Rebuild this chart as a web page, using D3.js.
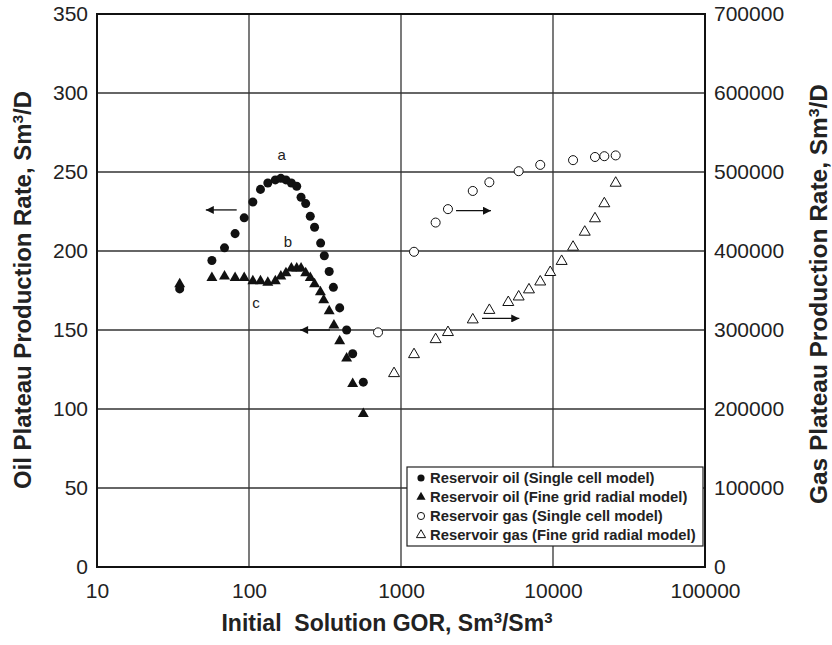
<!DOCTYPE html>
<html>
<head>
<meta charset="utf-8">
<script src="https://cdn.jsdelivr.net/npm/d3@7"></script>
<style>
  body { margin: 0; background: #fff; }
  text { font-family: "Liberation Sans", Arial, sans-serif; fill: #222; white-space: pre; }
</style>
</head>
<body>
<div id="chart"></div>
<script>
// values
var oilCellGor = [35, 57, 69, 81, 93, 106, 119, 133, 149, 162, 175, 190, 206, 220, 236, 253, 270, 296, 313, 337, 359, 395, 439, 481, 565];
var oilCellRate = [176, 194, 202, 211, 221, 231, 239, 243, 245, 246, 245, 243, 241, 234, 230, 222, 215, 205, 197, 187, 177, 164, 150, 135, 117];

var oilFineGor = [35, 57, 69, 81, 93, 106, 119, 133, 149, 162, 175, 190, 206, 220, 236, 253, 270, 295, 310, 337, 362, 395, 439, 481, 565];
var oilFineRate = [179, 183, 184, 183, 183, 181, 181, 180, 181, 184, 186, 189, 189, 189, 186, 183, 179, 174, 169, 162, 153, 143, 132, 116, 97];

var gasCellGor = [706, 1218, 1690, 2037, 2966, 3813, 5946, 8243, 13550, 18890, 21760, 25850];
var gasCellRate = [297000, 399000, 436000, 453000, 476000, 487000, 501000, 509000, 515000, 519000, 520000, 521000];

var gasFineGor = [900, 1218, 1690, 2037, 2966, 3813, 5080, 5946, 6950, 8243, 9590, 11400, 13550, 16180, 18890, 21760, 25850];
var gasFineRate = [245000, 269000, 288000, 297000, 313000, 325000, 335000, 342000, 351000, 361000, 373000, 387000, 405000, 424000, 441000, 460000, 486000];

var xTicks = [10, 100, 1000, 10000, 100000];
var oilTicks = [0, 50, 100, 150, 200, 250, 300, 350];
var gasTicks = [0, 100000, 200000, 300000, 400000, 500000, 600000, 700000];

var legendLabels = [
  "Reservoir oil (Single cell model)",
  "Reservoir oil (Fine grid radial model)",
  "Reservoir gas (Single cell model)",
  "Reservoir gas (Fine grid radial model)"
];

// arrows in oil-axis units: [fromGor, toGor, rate]
var arrows = [[83, 52, 226], [341, 217, 150], [2302, 3908, 225.5], [3412, 6000, 157.3]];
var notes = [["a", 164, 261], ["b", 180, 206], ["c", 111, 167]];

var width = 832, height = 645,
    margin = { left: 97, right: 127, top: 14, bottom: 78 };

var xScale = d3.scaleLog()
  .domain([10, 100000])
  .range([margin.left, width - margin.right]);

var yOil = d3.scaleLinear()
  .domain([0, 350])
  .range([height - margin.bottom, margin.top]);

var yGas = d3.scaleLinear()
  .domain([0, 700000])
  .range([height - margin.bottom, margin.top]);

var svg = d3.select("#chart").append("svg")
  .attr("width", width)
  .attr("height", height);

// grid
svg.append("g").selectAll("line")
  .data(oilTicks.slice(1, -1))
  .enter().append("line")
  .attr("x1", margin.left).attr("x2", width - margin.right)
  .attr("y1", function(d) { return yOil(d); })
  .attr("y2", function(d) { return yOil(d); })
  .attr("stroke", "#333").attr("stroke-width", 1.3);

svg.append("g").selectAll("line")
  .data(xTicks.slice(1, -1))
  .enter().append("line")
  .attr("y1", margin.top).attr("y2", height - margin.bottom)
  .attr("x1", function(d) { return xScale(d); })
  .attr("x2", function(d) { return xScale(d); })
  .attr("stroke", "#333").attr("stroke-width", 1.3);

svg.append("rect")
  .attr("x", margin.left).attr("y", margin.top)
  .attr("width", width - margin.left - margin.right)
  .attr("height", height - margin.top - margin.bottom)
  .attr("fill", "none").attr("stroke", "#111").attr("stroke-width", 2);

// axes
var xAxis = svg.append("g")
  .attr("transform", "translate(0," + (height - margin.bottom) + ")")
  .call(d3.axisBottom(xScale).tickValues(xTicks).tickFormat(d3.format("d")).tickSize(0).tickPadding(16));
var lAxis = svg.append("g")
  .attr("transform", "translate(" + margin.left + ",0)")
  .call(d3.axisLeft(yOil).tickValues(oilTicks).tickSize(0).tickPadding(9));
var rAxis = svg.append("g")
  .attr("transform", "translate(" + (width - margin.right) + ",0)")
  .call(d3.axisRight(yGas).tickValues(gasTicks).tickFormat(d3.format("d")).tickSize(0).tickPadding(9));

[xAxis, lAxis, rAxis].forEach(function(a) {
  a.select(".domain").remove();
  a.selectAll("text").attr("font-size", 21).attr("fill", "#222")
    .attr("font-family", "Liberation Sans, Arial, sans-serif");
});

// axis titles
function title(g, parts, len) {
  var t = g.append("text").attr("font-size", 23).attr("font-weight", "bold").attr("text-anchor", "middle");
  if (len) t.attr("textLength", len).attr("lengthAdjust", "spacingAndGlyphs");
  parts.forEach(function(p) {
    var s = t.append("tspan").text(p[0]);
    if (p[1]) s.attr("baseline-shift", "super").attr("font-size", 15);
  });
  return t;
}

title(svg.append("g").attr("transform", "translate(387,631)"),
  [["Initial  Solution GOR, Sm"], ["3", 1], ["/Sm"], ["3", 1]]);
title(svg.append("g").attr("transform", "translate(31,290) rotate(-90)"),
  [["Oil Plateau Production Rate, Sm"], ["3", 1], ["/D"]], 398);
title(svg.append("g").attr("transform", "translate(827,294) rotate(-90)"),
  [["Gas Plateau Production Rate, Sm"], ["3", 1], ["/D"]], 420);

// "b" label sits on a white patch over the grid line
notes.forEach(function(n) {
  if (n[0] === "b") {
    svg.append("rect")
      .attr("x", xScale(n[1]) - 8).attr("y", yOil(n[2]) - 7)
      .attr("width", 26).attr("height", 14).attr("fill", "#fff");
  }
  svg.append("text")
    .attr("x", xScale(n[1])).attr("y", yOil(n[2]))
    .attr("dy", "0.35em").attr("text-anchor", "middle")
    .attr("font-size", 15)
    .text(n[0]);
});

// arrows
svg.append("defs").append("marker")
  .attr("id", "head")
  .attr("viewBox", "0 0 10 10")
  .attr("refX", 10).attr("refY", 5)
  .attr("markerWidth", 11).attr("markerHeight", 8)
  .attr("markerUnits", "userSpaceOnUse")
  .attr("orient", "auto")
  .append("path").attr("d", "M0,0L10,5L0,10Z").attr("fill", "#111");

svg.append("g").selectAll("line")
  .data(arrows)
  .enter().append("line")
  .attr("x1", function(d) { return xScale(d[0]); })
  .attr("x2", function(d) { return xScale(d[1]); })
  .attr("y1", function(d) { return yOil(d[2]); })
  .attr("y2", function(d) { return yOil(d[2]); })
  .attr("stroke", "#111").attr("stroke-width", 1.3)
  .attr("marker-end", "url(#head)");

// markers
var circle = d3.symbol().type(d3.symbolCircle).size(64);
var tri = d3.symbol().type(d3.symbolTriangle).size(52);

function plot(xs, ys, y, sym, filled) {
  svg.append("g").selectAll("path")
    .data(xs)
    .enter().append("path")
    .attr("d", sym)
    .attr("transform", function(d, i) { return "translate(" + xScale(d) + "," + y(ys[i]) + ")"; })
    .attr("fill", filled ? "#111" : "#fff")
    .attr("stroke", "#111")
    .attr("stroke-width", filled ? 0 : 1);
}

plot(oilCellGor, oilCellRate, yOil, circle, true);
plot(oilFineGor, oilFineRate, yOil, tri, true);
plot(gasCellGor, gasCellRate, yGas, circle, false);
plot(gasFineGor, gasFineRate, yGas, tri, false);

// legend
var lg = svg.append("g").attr("transform", "translate(407,467)");
lg.append("rect").attr("width", 296).attr("height", 79)
  .attr("fill", "#fff").attr("stroke", "#222").attr("stroke-width", 1.2);

var legSyms = [
  d3.symbol().type(d3.symbolCircle).size(40),
  d3.symbol().type(d3.symbolTriangle).size(36),
  d3.symbol().type(d3.symbolCircle).size(40),
  d3.symbol().type(d3.symbolTriangle).size(36)
];
legendLabels.forEach(function(l, i) {
  var yy = 11 + i * 19;
  lg.append("path").attr("d", legSyms[i])
    .attr("transform", "translate(14," + yy + ")")
    .attr("fill", i < 2 ? "#111" : "#fff")
    .attr("stroke", "#111").attr("stroke-width", i < 2 ? 0 : 1);
  lg.append("text").attr("x", 23).attr("y", yy).attr("dy", "0.35em")
    .attr("font-size", 14.8).attr("font-weight", "bold")
    .text(l);
});
</script>
</body>
</html>
